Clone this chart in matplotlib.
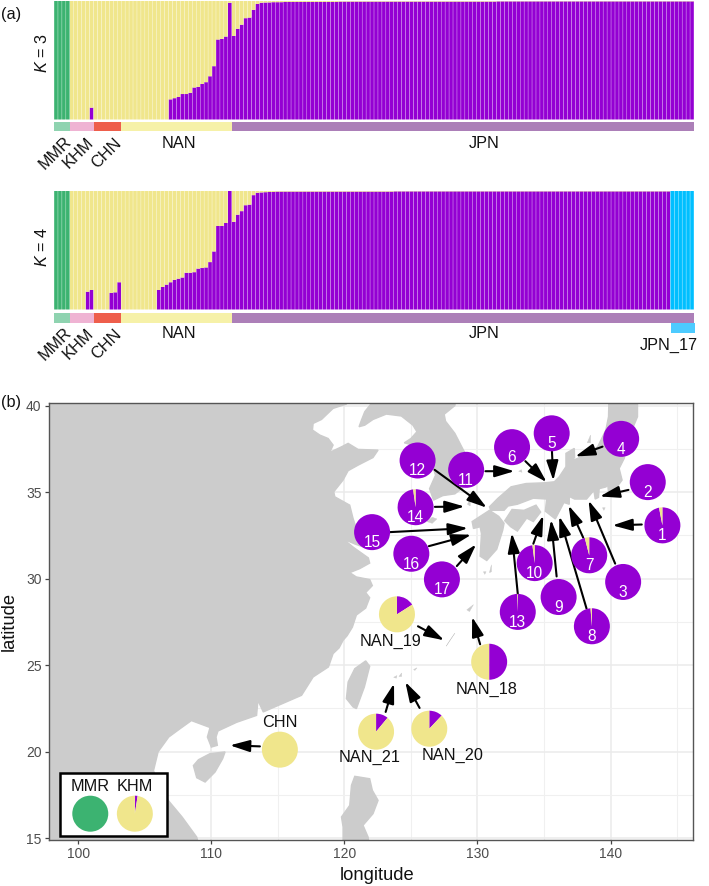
import matplotlib
matplotlib.use("Agg")
import matplotlib.pyplot as plt
import numpy as np
from matplotlib.patches import Polygon, Wedge, FancyArrowPatch, Rectangle
from matplotlib.transforms import Affine2D

plt.rcParams['font.family'] = ['Liberation Sans', 'DejaVu Sans']
plt.rcParams['mathtext.fontset'] = 'custom'
plt.rcParams['mathtext.it'] = 'Liberation Sans:italic'
plt.rcParams['mathtext.rm'] = 'Liberation Sans'

W, H = 709, 886
GREEN, KHAKI, PURPLE, BLUE = '#3CB371', '#F0E68C', '#9400D3', '#00BFFF'
LAND = '#CCCCCC'

# ---- structure bars -------------------------------------------------
groups = ['MMR', 'KHM', 'CHN', 'NAN', 'JPN']
group_sizes = [4, 6, 7, 28, 117]
group_colors = ['#8FD3B0', '#EFB3D3', '#EE5E4B', '#F6F1A8', '#AC7FB8']
n_green = 4
n_blue_k4 = 6

purple_k3 = ([0.0] * 9 + [0.10] + [0.0] * 19 +
             [.17, .18, .19, .215, .215, .225, .27, .275, .30, .315, .365, .45,
              .675, .68, .70, .985, .705, .765, .80, .855, .86, .925, .975] +
             [.985, .987, .988, .99, .99, .99] + [.992] * 14 + [.995] * 40 + [.997] * 50)

purple_k4 = ([0.0] * 8 + [.15, .165] + [0.0] * 4 + [.14, .145, .23] + [0.0] * 9 +
             [.165, .19, .21, .23, .25, .26, .27, .31, .31, .315, .345, .35, .355,
              .40, .49, .705, .705, .73, 1.0, .74, .80, .83, .88, .885, .965, .985] +
             [.988, .99, .992, .992] + [.995] * 30 + [.997] * 70 + [0.0] * 6)

# ---- map outlines (lon, lat) -----------------------------------------
mainland = [(97, 41), (120.15, 41), (120.15, 40.09), (119.15, 39.84), (118.28, 39.2), (117.65, 38.97),
            (117.6, 38.59), (118.15, 38.3), (118.78, 38.1), (119.15, 37.72), (118.9, 37.3), (119.78, 37.62),
            (120.28, 37.82), (121.03, 37.47), (122.53, 37.43), (122.15, 37.0), (121.03, 36.56), (120.28, 36.24),
            (119.9, 35.7), (119.2, 35.02), (119.28, 34.73), (120.4, 34.25), (120.65, 33.48), (120.9, 32.9),
            (121.5, 32.4), (121.9, 31.7), (120.8, 32.0), (119.9, 32.3), (120.7, 31.8), (121.8, 31.2),
            (121.9, 30.9), (121.15, 30.58), (120.4, 30.35), (120.9, 30.1), (121.9, 29.95), (122.1, 29.6),
            (121.6, 29.2), (121.9, 28.9), (121.6, 28.3), (120.9, 27.9), (120.6, 27.2), (120.2, 26.7),
            (119.9, 26.44), (119.6, 26.0), (119.15, 25.67), (118.8, 24.9), (117.65, 24.32), (116.78, 23.26),
            (115.4, 22.8), (113.9, 22.3), (113.5, 22.97), (113.4, 22.1), (111.9, 21.7), (110.5, 21.2),
            (110.35, 20.85), (110.45, 20.37), (110.0, 20.27), (109.7, 20.85), (109.9, 21.4), (108.5, 21.8),
            (107.65, 21.33), (106.8, 20.85), (106.0, 20.0), (105.65, 18.9), (106.65, 17.29), (107.8, 16.23),
            (108.9, 15.07), (109.1, 14.5), (97, 14.5)]
korea = [(122.03, 41), (122.03, 40.13), (121.53, 39.65), (121.28, 39.16), (121.1, 38.78), (121.53, 38.87),
         (122.15, 39.2), (123.15, 39.51), (124.28, 39.4), (125.15, 38.87), (125.45, 38.49), (125.0, 38.1),
         (124.5, 37.85), (125.15, 37.72), (126.4, 37.05), (126.85, 35.98), (126.4, 35.2), (126.7, 34.54),
         (127.4, 34.8), (128.3, 34.9), (128.95, 35.29), (129.3, 36.06), (129.1, 37.2), (128.3, 38.4),
         (127.6, 39.1), (127.5, 39.5), (128.3, 40), (128.5, 41)]
honshu = [(130.9, 34.15), (131.53, 34.64), (132.53, 35.31), (133.65, 35.5), (135.03, 35.54), (135.78, 35.6),
          (136.15, 35.89), (136.65, 36.47), (136.65, 37.24), (137.28, 37.53), (137.3, 37.0), (137.03, 36.8),
          (138.15, 37.14), (139.03, 37.62), (139.65, 38.59), (139.85, 39.36), (139.9, 41), (142.03, 41),
          (142.03, 39.36), (141.4, 38.2), (141.03, 36.95), (140.65, 36.37), (140.87, 35.7), (140.4, 35.2),
          (139.85, 34.92), (139.8, 35.4), (139.65, 35.3), (139.15, 35.2), (139.1, 34.7), (138.85, 34.6),
          (138.75, 35.1), (138.2, 34.6), (137.3, 34.6), (136.9, 34.75), (136.9, 34.3), (136.5, 34.4),
          (135.85, 33.45), (135.1, 33.9), (135.2, 34.6), (134.2, 34.65), (133, 34.3), (132.3, 34.2),
          (132, 33.95), (131, 33.95)]
shikoku = [(132.05, 33.35), (132.6, 34.0), (133.5, 33.95), (134.4, 34.25), (134.75, 33.85), (134.2, 33.3),
           (133.7, 33.5), (133.0, 32.75), (132.5, 33.0)]
kyushu = [(130.9, 33.95), (130.2, 33.6), (129.6, 33.3), (129.7, 32.9), (130.2, 33.0), (130.3, 32.6),
          (130.2, 31.3), (130.7, 31.05), (131.1, 31.4), (131.45, 31.7), (131.9, 32.8), (132.0, 33.2), (131.6, 33.6)]
hainan = [(108.65, 19.2), (109.03, 19.54), (109.9, 19.89), (111.03, 19.99), (110.85, 19.6), (110.28, 18.83),
          (109.53, 18.25), (108.9, 18.5)]
taiwan = [(121.6, 25.25), (121.9, 24.94), (121.5, 23.74), (120.9, 22.49), (120.65, 22.59), (120.15, 23.07),
          (120.28, 24.03), (120.78, 24.8)]
luzon = [(120.78, 18.58), (121.9, 18.44), (122.1, 17.77), (122.53, 17.19), (122.15, 16.42), (121.4, 15.75),
         (121.78, 15.07), (121.9, 14.5), (119.9, 14.5), (119.9, 15.65), (119.78, 16.23), (120.4, 16.9), (120.53, 18.06)]
islets = [[(129.25, 34.3), (129.5, 34.7), (129.45, 34.2)],
          [(126.2, 33.3), (126.6, 33.55), (126.95, 33.45), (126.6, 33.2)],
          [(138.25, 37.85), (138.5, 38.3), (138.5, 37.85)],
          [(133.1, 36.2), (133.3, 36.3), (133.35, 36.15)],
          [(130.45, 30.4), (130.65, 30.4), (130.55, 30.25)],
          [(130.9, 30.35), (131.05, 30.8), (131.05, 30.4)],
          [(129.2, 28.2), (129.7, 28.5), (129.4, 28.1)],
          [(127.65, 26.1), (128.3, 26.85), (127.9, 26.4)],
          [(125.2, 24.75), (125.45, 24.85), (125.3, 24.7)],
          [(124.1, 24.35), (124.3, 24.55), (124.3, 24.35)],
          [(123.7, 24.3), (123.95, 24.4), (123.9, 24.25)],
          [(139.4, 34.1), (139.6, 34.1), (139.5, 33.95)]]

# ---- pies ------------------------------------------------------------
pie_names = ['1', '2', '3', '4', '5', '6', '7', '8', '9', '10', '11', '12', '13', '14', '15', '16', '17']
pie_lon = [143.9, 142.8, 140.95, 140.8, 135.58, 132.6, 138.4, 138.6, 136.1, 134.3, 129.15, 125.5, 133.03, 125.35,
           122.08, 125.03, 127.33]
pie_lat = [33.08, 35.58, 29.81, 38.08, 38.4, 37.6, 31.35, 27.25, 28.94, 30.9, 36.29, 36.83, 28.08, 34.13, 32.69,
           31.44, 29.96]
pie_yellow = [.03, 0, 0, 0, 0, 0, .04, .012, 0, .02, 0, 0, .006, .022, 0, 0, 0]

pop_names = ['NAN_19', 'NAN_18', 'NAN_21', 'NAN_20', 'CHN']
pop_lon = [123.95, 130.88, 122.38, 126.38, 115.15]
pop_lat = [27.94, 25.2, 21.16, 21.33, 20.12]
pop_purple = [.16, .50, .11, .12, 0.0]
pop_label_lon = [123.45, 130.68, 121.9, 128.1, 115.15]
pop_label_lat = [26.4, 23.61, 19.66, 19.79, 21.68]

arrow_tail = [(142.35, 33.13), (141.35, 35.13), (140.35, 30.87), (139.4, 37.63), (135.6, 37.35), (133.6, 36.79),
              (137.95, 32.37), (138.2, 28.27), (135.95, 30.13), (134.2, 32.02), (130.6, 36.21), (126.78, 36.29),
              (133.03, 29.13), (126.8, 34.15), (123.4, 32.69), (126.35, 31.88), (128.45, 30.73),
              (125.53, 27.25), (130.2, 26.21), (123.1, 22.3), (125.65, 22.53), (113.65, 20.31)]
arrow_head = [(140.15, 33.08), (139.2, 34.75), (138.35, 34.52), (137.35, 37.06), (135.7, 35.67), (135.2, 35.58),
              (136.85, 34.23), (136.15, 33.6), (135.53, 33.4), (134.95, 33.65), (132.78, 36.21), (130.7, 34.1),
              (132.58, 32.63), (129.03, 34.17), (129.28, 32.92), (129.53, 32.54), (129.9, 31.98),
              (127.5, 26.44), (129.6, 27.79), (123.73, 23.94), (124.58, 24.03), (111.4, 20.37)]

x_ticks = [100, 110, 120, 130, 140]
y_ticks = [15, 20, 25, 30, 35, 40]

# ---- figure ----------------------------------------------------------
fig = plt.figure(figsize=(W / 100, H / 100), dpi=100)


def axpx(l, t, r, b, **kw):
    return fig.add_axes([l / W, 1 - b / H, (r - l) / W, (b - t) / H], **kw)


def txt(x, y, s, **kw):
    kw.setdefault('ha', 'center')
    kw.setdefault('va', 'center')
    kw.setdefault('color', '#111111')
    return fig.text(x / W, 1 - y / H, s, **kw)


BAR_W = 0.91


def structure(top, bottom, purple, blue_n):
    ax = axpx(54, top, 694, bottom)
    n = len(purple)
    x = np.arange(n)
    p = np.array(purple, float)
    green = np.zeros(n)
    green[:n_green] = 1
    blue = np.zeros(n)
    if blue_n:
        blue[-blue_n:] = 1
    yellow = 1 - p - green - blue
    for vals, base, col in [(green, 0, GREEN), (p, 0, PURPLE), (yellow, p, KHAKI), (blue, 0, BLUE)]:
        for b in ax.bar(x, vals, BAR_W, bottom=base, color=col, lw=0):
            b.set_snap(False)
    ax.set_xlim(-0.5, n - 0.5)
    ax.set_ylim(0, 1)
    ax.axis('off')


def strip(top, bottom):
    ax = axpx(54, top, 694, bottom)
    start = 0
    for size, c in zip(group_sizes, group_colors):
        ax.barh(0, size, 1, left=start, color=c, lw=0)
        start += size
    ax.set_xlim(0, start)
    ax.set_ylim(-0.5, 0.5)
    ax.axis('off')


structure(1, 119.5, purple_k3, 0)
structure(191, 309.5, purple_k4, n_blue_k4)
strip(122, 131.3)
strip(313.3, 322.5)
ax17 = axpx(670.7, 323, 694.5, 332.5)
ax17.barh(0, 1, 1, color='#4DCBFF', lw=0)
ax17.set_xlim(0, 1)
ax17.set_ylim(-0.5, 0.5)
ax17.axis('off')

FS = 11.7
for dy, y_rot, y_nan in [(0, 153, 143), (1, 344, 333)]:
    txt(55, y_rot, groups[0], rotation=45, fontsize=FS)
    txt(78, y_rot, groups[1], rotation=45, fontsize=FS)
    txt(106, y_rot, groups[2], rotation=45, fontsize=FS)
    txt(179, y_nan, groups[3], fontsize=FS)
    txt(484, y_nan, groups[4], fontsize=FS)
txt(669, 345, 'JPN_17', fontsize=FS)
txt(11, 14, '(a)', fontsize=FS)
txt(11, 402, '(b)', fontsize=FS)
txt(42, 53, '$\\mathit{K}$ = 3', rotation=90, fontsize=FS)
txt(42, 247, '$\\mathit{K}$ = 4', rotation=90, fontsize=FS)

# ---- map ---------------------------------------------------------------
ax = axpx(48.5, 403.2, 693, 840)
ax.set_xlim(97.76, 146.2)
ax.set_ylim(14.9, 40.14)
ax.set_axisbelow(True)
ax.set_xticks(x_ticks)
ax.set_yticks(y_ticks)
ax.set_xticks(np.arange(105, 146, 10), minor=True)
ax.set_yticks(np.arange(17.5, 40, 5), minor=True)
ax.grid(which='major', color='#EBEBEB', lw=1.1)
ax.grid(which='minor', color='#F0F0F0', lw=0.8)
ax.tick_params(which='minor', length=0)
ax.tick_params(which='major', length=3, width=0.9, color='#444444', labelcolor='#4D4D4D', labelsize=10, pad=2)
for s in ax.spines.values():
    s.set_color('#555555')
    s.set_linewidth(1.0)
    s.set_zorder(20)

for poly in [mainland, korea, honshu, shikoku, kyushu, hainan, taiwan, luzon]:
    ax.add_patch(Polygon(poly, closed=True, fc=LAND, ec=LAND, lw=1.0, zorder=2))
for poly in islets:
    ax.add_patch(Polygon(poly, closed=True, fc=LAND, ec=LAND, lw=0.3, zorder=2))

RX, RY = 18 / 13.31, 18 / 17.3


def pie(lon, lat, parts, z=6):
    start = 0.0
    tr = Affine2D().scale(RX, RY).translate(lon, lat) + ax.transData
    for frac, color in parts:
        if frac <= 0:
            continue
        # clockwise from 12 o'clock
        t2 = 90 - start * 360
        t1 = 90 - (start + frac) * 360
        ax.add_patch(Wedge((0, 0), 1, t1, t2, fc=color, lw=0, transform=tr, zorder=z))
        start += frac


for tail, head in zip(arrow_tail, arrow_head):
    ax.add_patch(FancyArrowPatch(tail, head, arrowstyle='-|>,head_length=12,head_width=3.6', mutation_scale=1,
                                 shrinkA=0, shrinkB=0, lw=1.5, color='black', zorder=5))

for name, lon, lat, y in zip(pie_names, pie_lon, pie_lat, pie_yellow):
    pie(lon, lat, [(1 - y, PURPLE), (y, KHAKI)])
    ax.annotate(name, (lon, lat), xytext=(0, -7.5), textcoords='offset points', ha='center', va='center',
                color='white', fontsize=11.2, zorder=7)

for name, lon, lat, p, lx, ly in zip(pop_names, pop_lon, pop_lat, pop_purple, pop_label_lon, pop_label_lat):
    pie(lon, lat, [(p, PURPLE), (1 - p, KHAKI)])
    ax.text(lx, ly, name, ha='center', va='center', fontsize=FS, color='#111111', zorder=7)

# inset legend box
ax.add_patch(Rectangle((98.65, 15.13), 8.0, 3.65, fc='white', ec='black', lw=1.8, zorder=8))
legend_names = ['MMR', 'KHM']
legend_lon = [100.9, 104.25]
legend_parts = [[(1.0, GREEN)], [(.025, PURPLE), (.975, KHAKI)]]
for name, lon, parts in zip(legend_names, legend_lon, legend_parts):
    pie(lon, 16.42, parts, z=9)
    ax.text(lon, 18.0, name, ha='center', va='center', fontsize=FS, color='#111111', zorder=9)

txt(377, 875, 'longitude', fontsize=13.2)
txt(9, 621, 'latitude', fontsize=13.2, rotation=90)

fig.savefig('out.png', dpi=100)
